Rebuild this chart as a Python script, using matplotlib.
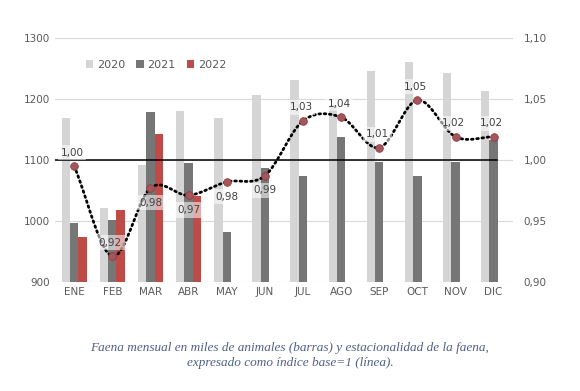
import matplotlib.pyplot as plt
import numpy as np

months = ['ENE', 'FEB', 'MAR', 'ABR', 'MAY', 'JUN', 'JUL', 'AGO', 'SEP', 'OCT', 'NOV', 'DIC']
faena_2020 = [1169, 1021, 1092, 1181, 1169, 1207, 1231, 1190, 1245, 1260, 1242, 1213]
faena_2021 = [996, 1002, 1178, 1095, 982, 1087, 1073, 1137, 1097, 1073, 1097, 1133]
faena_2022 = [973, 1018, 1143, 1041]
indice = [0.995, 0.921, 0.977, 0.971, 0.982, 0.987, 1.032, 1.035, 1.010, 1.049, 1.019, 1.019]
indice_labels = ['1,00', '0,92', '0,98', '0,97', '0,98', '0,99', '1,03', '1,04', '1,01', '1,05', '1,02', '1,02']
label_above = [True, True, False, False, False, False, True, True, True, True, True, True]


def smooth(x, y, n=20):
    # catmull-rom curve through the points, like the excel smoothed line
    x = np.asarray(x, float)
    y = np.asarray(y, float)
    px = np.concatenate([[2 * x[0] - x[1]], x, [2 * x[-1] - x[-2]]])
    py = np.concatenate([[2 * y[0] - y[1]], y, [2 * y[-1] - y[-2]]])
    xs, ys = [], []
    t = np.linspace(0, 1, n)
    for i in range(1, len(px) - 2):
        for p, out in ((px, xs), (py, ys)):
            p0, p1, p2, p3 = p[i - 1], p[i], p[i + 1], p[i + 2]
            out.extend(0.5 * (2 * p1 + (-p0 + p2) * t + (2 * p0 - 5 * p1 + 4 * p2 - p3) * t ** 2
                              + (-p0 + 3 * p1 - 3 * p2 + p3) * t ** 3))
    return xs, ys


fig = plt.figure(figsize=(5.8, 3.91), dpi=100)
ax = fig.add_axes([0.095, 0.279, 0.789, 0.624])
x = np.arange(len(months))
w = 0.22

ax.bar(x - w, faena_2020, w, color='#d5d5d5', label='2020', zorder=2)
ax.bar(x, faena_2021, w, color='#767676', label='2021', zorder=2)
ax.bar(np.arange(len(faena_2022)) + w, faena_2022, w, color='#be4b48', label='2022', zorder=2)

ax.set_ylim(900, 1300)
ax.set_xlim(-0.5, 11.5)
ax.set_yticks(range(900, 1301, 100))
ax.set_xticks(x)
ax.set_xticklabels(months)
ax.grid(axis='y', color='#d9d9d9', lw=0.8, zorder=0)
for s in ax.spines.values():
    s.set_visible(False)
ax.tick_params(length=0, labelsize=7.5, colors='#595959')
ax.tick_params(axis='x', pad=4)

ax.legend(loc='upper left', bbox_to_anchor=(0.045, 0.95), ncol=3, frameon=False,
          fontsize=8, handlelength=0.7, handleheight=0.7, columnspacing=1.0,
          handletextpad=0.3, labelcolor='#595959')

ax2 = ax.twinx()
ax2.set_ylim(0.90, 1.10)
ax2.set_yticks([0.90, 0.95, 1.00, 1.05, 1.10])
ax2.set_yticklabels(['0,90', '0,95', '1,00', '1,05', '1,10'])
ax2.tick_params(length=0, labelsize=7.5, colors='#595959', pad=8)
for s in ax2.spines.values():
    s.set_visible(False)

ax2.plot([-0.5, 11.1], [1.0, 1.0], color='black', lw=1.1, zorder=3)
sx, sy = smooth(x, indice)
ax2.plot(sx, sy, color='black', lw=2, ls=(0, (0.6, 1.3)), dash_capstyle='round', zorder=4)
ax2.plot(x, indice, 'o', ms=5.5, mfc='#a5565a', mec='#8a3e42', mew=0.6, zorder=5)

for xi, yi, lab, up in zip(x, indice, indice_labels, label_above):
    dy = 0.011 if up else -0.012
    ax2.text(xi - 0.05 if up else xi, yi + dy, lab, ha='center', va='center', fontsize=7.5,
             color='#404040', zorder=6,
             bbox=dict(boxstyle='square,pad=0.25', fc='white', ec='none', alpha=0.55))

fig.text(0.5, 0.091, 'Faena mensual en miles de animales (barras) y estacionalidad de la faena,\n'
         'expresado como índice base=1 (línea).', ha='center', va='center',
         fontsize=9.5, style='italic', family='Liberation Serif', color='#4f5f85',
         linespacing=1.25)

fig.savefig('out.png', dpi=100)
